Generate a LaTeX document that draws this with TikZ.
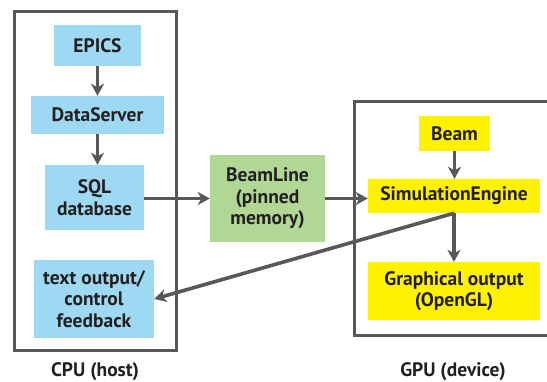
\documentclass[tikz,border=0pt]{standalone}
\usepackage{fontspec}
\setmainfont{PT Sans}
\usetikzlibrary{arrows.meta}
\definecolor{cpublue}{HTML}{9DD9F3}
\definecolor{bgreen}{HTML}{B1D795}
\definecolor{gyellow}{HTML}{FFF200}
\definecolor{lgray}{HTML}{58585A}
\definecolor{txtc}{HTML}{231F20}
\tikzset{
  box/.style={inner sep=0pt, align=center, text=txtc,
    font=\fontsize{19.5}{21.5}\selectfont\bfseries},
  bluebox/.style={box, fill=cpublue},
  greenbox/.style={box, fill=bgreen},
  yellowbox/.style={box, fill=gyellow},
  frame/.style={draw=lgray, line width=3pt},
  conn/.style={draw=lgray, line width=3.6pt, -{Stealth[length=12pt,width=13pt,inset=3.5pt]}},
  caption/.style={text=txtc, font=\fontsize{19.5}{22}\selectfont\bfseries}
}
\begin{document}
\begin{tikzpicture}[x=1pt,y=-1pt]
\useasboundingbox (0,0) rectangle (547,382);
% frames
\draw[frame] (14,12) rectangle (176,351);
\draw[frame] (549,102) -- (354,102) -- (354,336) -- (549,336);
% CPU nodes
\node[bluebox, minimum width=87pt, minimum height=41pt] (epics) at (97.5,45.5) {EPICS};
\node[bluebox, minimum width=133pt, minimum height=38pt] (ds) at (97.5,115) {DataServer};
\node[bluebox, minimum width=99pt, minimum height=65pt] (sql) at (94.5,197.5) {SQL\\database};
\node[bluebox, minimum width=120pt, minimum height=78pt] (txt) at (94,299) {text output/\\control\\feedback};
% middle
\node[greenbox, minimum width=115pt, minimum height=87pt] (bl) at (267.5,198.5) {BeamLine\\(pinned\\memory)};
% GPU nodes
\node[yellowbox, minimum width=71pt, minimum height=35pt] (beam) at (454.5,133.5) {Beam};
\node[yellowbox, minimum width=172pt, minimum height=34pt] (sim) at (454,196) {SimulationEngine};
\node[yellowbox, minimum width=172pt, minimum height=58pt] (gfx) at (454,291) {Graphical output\\(OpenGL)};
% captions
\node[caption] (cpu) at (95,372) {CPU (host)};
\node[caption] (gpu) at (453,372) {GPU (device)};
% connectors
\draw[conn] (epics.south) -- (ds.north);
\draw[conn] (ds.south) -- (ds.south |- sql.north);
\draw[conn] (sql.east |- bl.west) -- (bl.west);
\draw[conn] (bl.east) -- (bl.east -| sim.west);
\draw[conn] (beam.south) -- (beam.south |- sim.north);
\draw[conn] (sim.south) -- (sim.south |- gfx.north);
\draw[conn] (sim.south) -- (txt.east);
\end{tikzpicture}
\end{document}
